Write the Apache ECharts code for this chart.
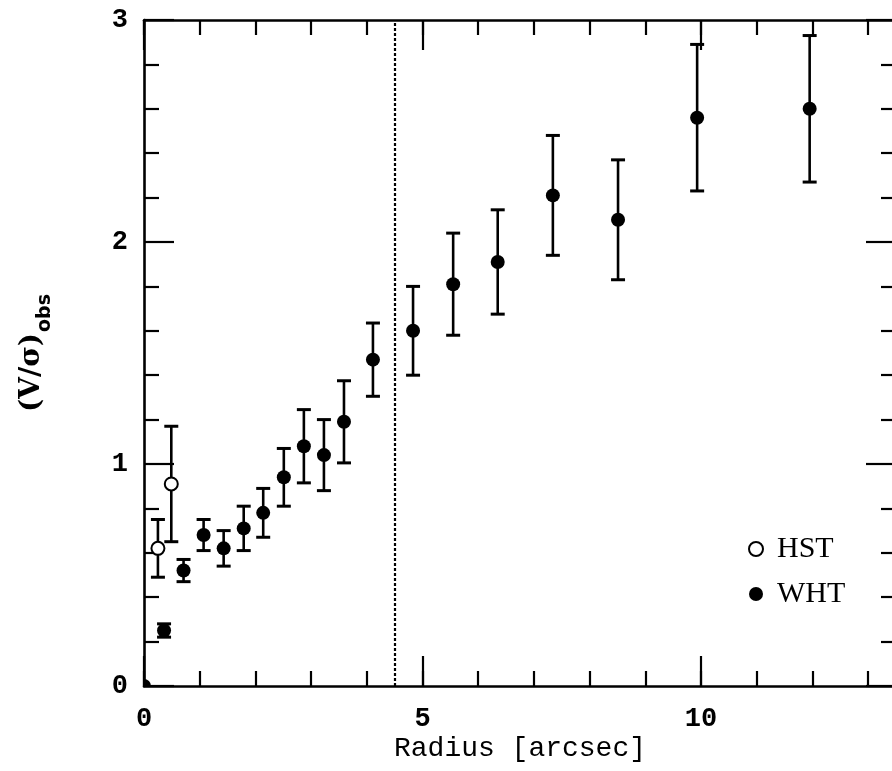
<!DOCTYPE html>
<html>
<head>
<meta charset="utf-8">
<title>(V/σ)obs vs Radius</title>
<script src="https://cdn.jsdelivr.net/npm/echarts@6/dist/echarts.min.js"></script>
<style>
  html, body { margin: 0; padding: 0; background: #fff; }
  #chart { width: 892px; height: 771px; }
</style>
</head>
<body>
<div id="chart"></div>
<script>
// HST measurements: radius [arcsec], V/sigma and its 1-sigma error
var hstRadius = [0.25, 0.49];
var hstVs     = [0.62, 0.91];
var hstErr    = [0.13, 0.26];

// WHT measurements
var whtRadius = [0.0, 0.36, 0.71, 1.07, 1.43, 1.79, 2.14, 2.51, 2.87, 3.23, 3.59, 4.11, 4.83, 5.55, 6.35, 7.34, 8.51, 9.93, 11.95];
var whtVs     = [0.0, 0.25, 0.52, 0.68, 0.62, 0.71, 0.78, 0.94, 1.08, 1.04, 1.19, 1.47, 1.60, 1.81, 1.91, 2.21, 2.10, 2.56, 2.60];
var whtErr    = [0.0, 0.03, 0.05, 0.07, 0.08, 0.10, 0.11, 0.13, 0.165, 0.16, 0.185, 0.165, 0.20, 0.23, 0.235, 0.27, 0.27, 0.33, 0.33];

// Radius marking the boundary drawn as a dotted line
var boundaryRadius = 4.5;

// Axis ranges and tick labels
var xRange = [0, 13.5];
var yRange = [0, 3];
var xTickLabels = ['0', '5', '10'];
var yTickLabels = ['0', '1', '2', '3'];

function rows(r, v, e) {
  return r.map(function (x, i) { return [x, v[i], e[i]]; });
}

var hstRows = rows(hstRadius, hstVs, hstErr);
var whtRows = rows(whtRadius, whtVs, whtErr);

// Each point: vertical error bar with end caps, then the circular marker on top
function pointWithError(fill, radius) {
  return function (params, api) {
    var x = api.value(0), y = api.value(1), e = api.value(2);
    var c = api.coord([x, y]);
    var children = [];
    if (e > 0) {
      var top = api.coord([x, y + e]);
      var bot = api.coord([x, y - e]);
      var half = 7;
      var st = { stroke: '#000', lineWidth: 2.6 };
      var cap = { stroke: '#000', lineWidth: 3 };
      children.push(
        { type: 'line', shape: { x1: top[0], y1: top[1], x2: bot[0], y2: bot[1] }, style: st },
        { type: 'line', shape: { x1: top[0] - half, y1: top[1], x2: top[0] + half, y2: top[1] }, style: cap },
        { type: 'line', shape: { x1: bot[0] - half, y1: bot[1], x2: bot[0] + half, y2: bot[1] }, style: cap }
      );
    }
    children.push({
      type: 'circle',
      shape: { cx: c[0], cy: c[1], r: radius },
      style: fill ? { fill: '#000' } : { fill: '#fff', stroke: '#000', lineWidth: 2 }
    });
    return { type: 'group', children: children };
  };
}

var monoFont = 'Liberation Mono';
var lineStyle = { color: '#000', width: 2.6 };

function labelFmt(list) {
  return function (v) {
    var s = String(Math.round(v * 1000) / 1000);
    return list.indexOf(s) >= 0 ? s : '';
  };
}

function xAxisDef(pos, major, withLabels) {
  return {
    type: 'value',
    position: pos,
    min: xRange[0],
    max: xRange[1],
    interval: major ? 5 : 1,
    axisLine: { show: major, onZero: false, lineStyle: lineStyle },
    axisTick: { show: true, inside: true, length: major ? 30 : 15, lineStyle: { color: '#000', width: 2.2 } },
    axisLabel: {
      show: withLabels,
      showMaxLabel: false,
      margin: 20,
      color: '#000',
      fontFamily: monoFont,
      fontWeight: 'bold',
      fontSize: 27,
      formatter: labelFmt(xTickLabels)
    },
    splitLine: { show: false }
  };
}

function yAxisDef(pos, withLabels) {
  return {
    type: 'value',
    position: pos,
    min: yRange[0],
    max: yRange[1],
    interval: 1,
    axisLine: { show: true, onZero: false, lineStyle: lineStyle },
    axisTick: { show: true, inside: true, length: 30, lineStyle: { color: '#000', width: 2.2 } },
    minorTick: { show: true, splitNumber: 5, length: 15, lineStyle: { color: '#000', width: 2.2 } },
    axisLabel: {
      show: withLabels,
      margin: 16,
      color: '#000',
      fontFamily: monoFont,
      fontWeight: 'bold',
      fontSize: 27,
      formatter: labelFmt(yTickLabels)
    },
    splitLine: { show: false },
    minorSplitLine: { show: false }
  };
}

var xBottom = xAxisDef('bottom', true, true);
xBottom.name = 'Radius [arcsec]';
xBottom.nameLocation = 'middle';
xBottom.nameGap = 49;
xBottom.nameMoveOverlap = false;
xBottom.nameTextStyle = { color: '#000', fontFamily: monoFont, fontSize: 28 };

var yLeft = yAxisDef('left', true);
yLeft.name = '{a|(V/σ)}{b|obs}';
yLeft.nameLocation = 'middle';
yLeft.nameRotate = 90;
yLeft.nameGap = 92;
yLeft.nameMoveOverlap = false;
yLeft.nameTextStyle = {
  color: '#000',
  rich: {
    a: { fontFamily: 'DejaVu Serif', fontWeight: 'bold', fontSize: 28, lineHeight: 34, verticalAlign: 'top', color: '#000' },
    b: { fontFamily: 'DejaVu Sans', fontWeight: 'bold', fontSize: 19, lineHeight: 20, verticalAlign: 'top', padding: [18, 0, 0, 1], color: '#000' }
  }
};

var chart = echarts.init(document.getElementById('chart'), null, { renderer: 'canvas' });

chart.setOption({
  animation: false,
  backgroundColor: '#fff',
  grid: { left: 144, right: -4, top: 20, bottom: 85, containLabel: false, outerBoundsMode: 'none' },
  xAxis: [
    xBottom,
    xAxisDef('bottom', false, false),
    xAxisDef('top', true, false),
    xAxisDef('top', false, false)
  ],
  yAxis: [
    yLeft,
    yAxisDef('right', false)
  ],
  legend: {
    orient: 'vertical',
    left: 748,
    top: 534,
    padding: 0,
    itemWidth: 32,
    itemHeight: 14,
    itemGap: 15,
    data: [
      { name: 'HST', icon: 'circle', itemStyle: { color: '#fff', borderColor: '#000', borderWidth: 2 } },
      { name: 'WHT', icon: 'circle', itemStyle: { color: '#000', borderWidth: 0 } }
    ],
    textStyle: { color: '#000', fontFamily: 'Liberation Serif', fontSize: 30, lineHeight: 30 }
  },
  series: [
    {
      name: 'boundary',
      type: 'line',
      data: [],
      markLine: {
        silent: true,
        symbol: 'none',
        label: { show: false },
        lineStyle: { color: '#000', width: 2.2, type: [3, 2] },
        data: [{ xAxis: boundaryRadius }]
      }
    },
    {
      name: 'HST',
      type: 'custom',
      renderItem: pointWithError(false, 6.5),
      data: hstRows,
      encode: { x: 0, y: 1 },
      itemStyle: { color: '#fff', borderColor: '#000' },
      clip: true,
      z: 3
    },
    {
      name: 'WHT',
      type: 'custom',
      renderItem: pointWithError(true, 7),
      data: whtRows,
      encode: { x: 0, y: 1 },
      itemStyle: { color: '#000' },
      clip: true,
      z: 3
    }
  ]
});
</script>
</body>
</html>
